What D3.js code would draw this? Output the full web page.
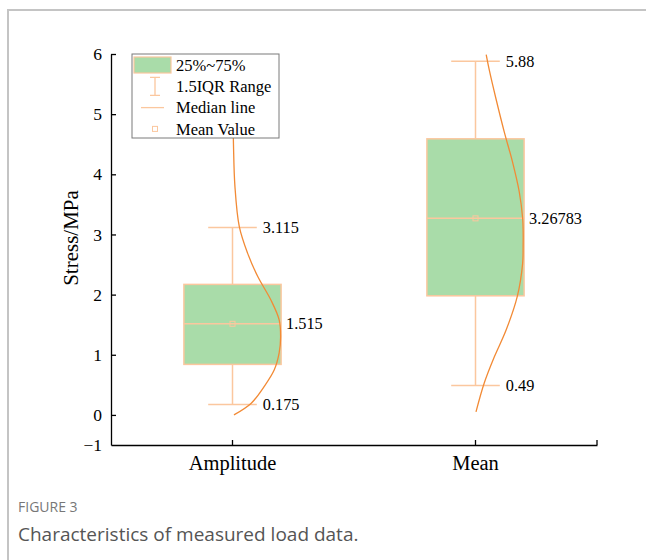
<!DOCTYPE html>
<html>
<head>
<meta charset="utf-8">
<script src="https://cdn.jsdelivr.net/npm/d3@7"></script>
<style>
  body { margin: 0; background: #fff; }
  svg { display: block; }
</style>
</head>
<body>
<script>
(function() {
    var w = 646;
    var h = 560;

    // data
    var categories = ["Amplitude", "Mean"];
    var q1 = [0.84, 1.98];
    var q3 = [2.17, 4.59];
    var medians = [1.515, 3.26783];
    var means = [1.515, 3.26783];
    var whiskerLow = [0.175, 0.49];
    var whiskerHigh = [3.115, 5.88];

    // distribution curves: value and relative density (1 = half box width)
    var curveValues = [
        [0, 0.19, 0.47, 0.75, 1.03, 1.30, 1.58, 1.91, 2.30, 2.69, 3.13, 3.8, 4.5, 5.2, 6.0],
        [0.05, 0.53, 0.97, 1.41, 1.97, 2.52, 2.8, 3.07, 3.27, 3.71, 4.21, 4.71, 5.26, 5.71, 5.99]
    ];
    var curveDensity = [
        [0.03, 0.38, 0.65, 0.86, 0.96, 0.99, 0.96, 0.79, 0.52, 0.31, 0.14, 0.05, 0.02, 0.006, 0],
        [0.01, 0.18, 0.39, 0.63, 0.86, 0.97, 0.98, 0.98, 0.97, 0.90, 0.76, 0.59, 0.42, 0.29, 0.22]
    ];

    var yTickValues = [-0.5, 0, 1, 2, 3, 4, 5, 6];
    var yTickLabels = ["\u22121", "0", "1", "2", "3", "4", "5", "6"];

    var legendLabels = ["25%~75%", "1.5IQR Range", "Median line", "Mean Value"];

    var green = "#a9dca9";
    var lightOrange = "#fbc79e";
    var darkOrange = "#f28a35";
    var serif = "'Liberation Serif', 'Times New Roman', serif";

    var svg = d3.select("body").append("svg")
        .attr("width", w)
        .attr("height", h);

    // figure frame (left and top)
    svg.append("path")
        .attr("d", "M8," + h + "V10H" + w)
        .attr("fill", "none")
        .attr("stroke", "#c4c4c4")
        .attr("stroke-width", 2);

    var x = d3.scaleBand().domain(categories).range([111, 597]).padding(0);
    var y = d3.scaleLinear().domain([-0.5, 6]).range([445, 54]);

    var boxW = x.bandwidth() * 0.4;
    var capW = boxW / 2;

    var rows = categories.map(function(c, i) {
        return {
            cat: c, q1: q1[i], q3: q3[i], med: medians[i], mean: means[i],
            lo: whiskerLow[i], hi: whiskerHigh[i],
            curve: curveValues[i].map(function(v, j) { return [v, curveDensity[i][j]]; })
        };
    });

    //axes
    var yAxis = d3.axisLeft(y)
        .tickValues(yTickValues)
        .tickFormat(function(d, i) { return yTickLabels[i]; })
        .tickSizeInner(-5)
        .tickSizeOuter(0)
        .tickPadding(9);

    var gy = svg.append("g")
        .attr("transform", "translate(111,0)")
        .call(yAxis);
    gy.selectAll("text").attr("font-family", serif).attr("font-size", 17.5).attr("fill", "#000");
    gy.selectAll("line, path").attr("stroke", "#000").attr("stroke-width", 1.3);
    gy.selectAll(".tick").filter(function(d) { return d === -0.5; }).select("line").remove();

    var xAxis = d3.axisBottom(x)
        .tickSizeInner(-5)
        .tickSizeOuter(0)
        .tickPadding(10);

    var gx = svg.append("g")
        .attr("transform", "translate(0,445)")
        .call(xAxis);
    gx.selectAll("text").attr("font-family", serif).attr("font-size", 20.5).attr("fill", "#000");
    gx.selectAll("line, path").attr("stroke", "#000").attr("stroke-width", 1.3);
    gx.append("line")
        .attr("x1", x.range()[1]).attr("x2", x.range()[1])
        .attr("y1", 0).attr("y2", -5)
        .attr("stroke", "#000").attr("stroke-width", 1.3);

    svg.append("text")
        .attr("transform", "translate(78,238) rotate(-90)")
        .attr("text-anchor", "middle")
        .attr("font-family", serif)
        .attr("font-size", 21)
        .text("Stress/MPa");

    //boxes
    var g = svg.selectAll("g.box")
        .data(rows)
        .enter()
        .append("g")
        .attr("class", "box")
        .attr("transform", function(d) { return "translate(" + (x(d.cat) + x.bandwidth() / 2) + ",0)"; });

    g.append("line")
        .attr("x1", 0).attr("x2", 0)
        .attr("y1", function(d) { return y(d.hi); })
        .attr("y2", function(d) { return y(d.lo); })
        .attr("stroke", lightOrange).attr("stroke-width", 1.5);

    g.selectAll("line.cap")
        .data(function(d) { return [d.lo, d.hi]; })
        .enter()
        .append("line")
        .attr("class", "cap")
        .attr("x1", -capW / 2).attr("x2", capW / 2)
        .attr("y1", function(v) { return y(v); })
        .attr("y2", function(v) { return y(v); })
        .attr("stroke", lightOrange).attr("stroke-width", 1.5);

    g.append("rect")
        .attr("x", -boxW / 2)
        .attr("width", boxW)
        .attr("y", function(d) { return y(d.q3); })
        .attr("height", function(d) { return y(d.q1) - y(d.q3); })
        .attr("fill", green)
        .attr("stroke", lightOrange).attr("stroke-width", 1.5);

    g.append("line")
        .attr("x1", -boxW / 2).attr("x2", boxW / 2)
        .attr("y1", function(d) { return y(d.med); })
        .attr("y2", function(d) { return y(d.med); })
        .attr("stroke", lightOrange).attr("stroke-width", 1.5);

    g.append("rect")
        .attr("x", -2.5).attr("width", 5).attr("height", 5)
        .attr("y", function(d) { return y(d.mean) - 2.5; })
        .attr("fill", "none")
        .attr("stroke", lightOrange).attr("stroke-width", 1);

    var curveLine = d3.line()
        .x(function(p) { return p[1] * boxW / 2; })
        .y(function(p) { return y(p[0]); })
        .curve(d3.curveCatmullRom);

    g.append("path")
        .attr("d", function(d) { return curveLine(d.curve); })
        .attr("fill", "none")
        .attr("stroke", darkOrange).attr("stroke-width", 1.3);

    // value labels
    g.selectAll("text.wl")
        .data(function(d) { return [d.lo, d.hi]; })
        .enter()
        .append("text")
        .attr("class", "wl")
        .attr("x", capW / 2 + 6)
        .attr("y", function(v) { return y(v); })
        .attr("dy", "0.35em")
        .attr("font-family", serif).attr("font-size", 16.3)
        .text(function(v) { return String(v); });

    g.append("text")
        .attr("x", boxW / 2 + 5)
        .attr("y", function(d) { return y(d.med); })
        .attr("dy", "0.35em")
        .attr("font-family", serif).attr("font-size", 16.3)
        .text(function(d) { return String(d.med); });

    //legend
    var lg = svg.append("g").attr("transform", "translate(132,54)");
    lg.append("rect")
        .attr("width", 147).attr("height", 84)
        .attr("fill", "#fff")
        .attr("stroke", "#7a7a7a").attr("stroke-width", 1);

    var rowY = function(i) { return 11 + i * 21.3; };

    lg.append("rect")
        .attr("x", 2).attr("y", rowY(0) - 8).attr("width", 37).attr("height", 16)
        .attr("fill", green).attr("stroke", lightOrange).attr("stroke-width", 1.2);

    lg.append("path")
        .attr("d", "M18," + (rowY(1) - 9) + "H28M23," + (rowY(1) - 9) + "V" + (rowY(1) + 9) + "M18," + (rowY(1) + 9) + "H28")
        .attr("fill", "none").attr("stroke", lightOrange).attr("stroke-width", 1.3);

    lg.append("line")
        .attr("x1", 9).attr("x2", 32)
        .attr("y1", rowY(2)).attr("y2", rowY(2))
        .attr("stroke", lightOrange).attr("stroke-width", 1.3);

    lg.append("rect")
        .attr("x", 20.5).attr("y", rowY(3) - 2.5).attr("width", 5).attr("height", 5)
        .attr("fill", "none").attr("stroke", lightOrange).attr("stroke-width", 1);

    lg.selectAll("text.leg")
        .data(legendLabels)
        .enter()
        .append("text")
        .attr("class", "leg")
        .attr("x", 44)
        .attr("y", function(d, i) { return rowY(i); })
        .attr("dy", "0.35em")
        .attr("font-family", serif).attr("font-size", 16.5)
        .text(function(d) { return d; });

    // caption
    svg.append("text")
        .attr("x", 18).attr("y", 512)
        .attr("font-family", "'Open Sans', 'Noto Sans', sans-serif")
        .attr("font-size", 14)
        .attr("fill", "#777")
        .text("FIGURE 3");

    svg.append("text")
        .attr("x", 18).attr("y", 541)
        .attr("font-family", "'Open Sans', 'Noto Sans', sans-serif")
        .attr("font-size", 19)
        .attr("fill", "#555")
        .text("Characteristics of measured load data.");
})();
</script>
</body>
</html>
